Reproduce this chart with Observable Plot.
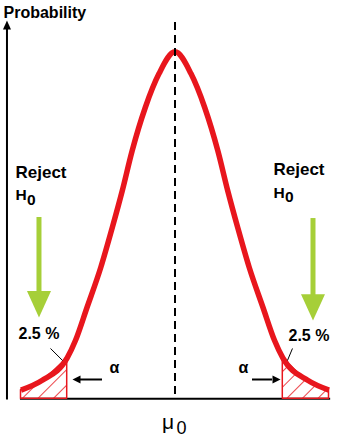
<!DOCTYPE html>
<html>
<head>
<meta charset="utf-8">
<script src="https://cdn.jsdelivr.net/npm/d3@7"></script>
<script src="https://cdn.jsdelivr.net/npm/@observablehq/plot@0.6"></script>
<style>
  html, body { margin: 0; padding: 0; background: #fff; }
  #chart svg { display: block; }
</style>
</head>
<body>
<div id="chart"></div>
<script>
// ---- data ----
const curveZ = [-2.80, -2.42, -1.96, -1.81, -1.60, -1.35, -1.14, -0.96, -0.78, -0.54, -0.29, 0,
                0.29, 0.54, 0.78, 0.96, 1.14, 1.35, 1.60, 1.81, 1.96, 2.42, 2.80];
const curveDensity = [0.010, 0.021, 0.047, 0.067, 0.105, 0.151, 0.197, 0.239, 0.285, 0.335, 0.374, 0.399,
                      0.374, 0.335, 0.285, 0.239, 0.197, 0.151, 0.105, 0.067, 0.047, 0.021, 0.010];
const criticalZ = 1.96;
const tailLabel = "2.5 %";
const alphaLabel = "α";
const rejectLabel = "Reject";
const axisLabel = "Probability";

const curve = curveZ.map((z, i) => ({z, d: curveDensity[i]}));
const leftTail = curve.filter(p => p.z <= -criticalZ);
const rightTail = curve.filter(p => p.z >= criticalZ);

// annotation anchors (in data units)
const textLabels = [
  {x: -3.118, y: 0.4375, text: axisLabel, size: 16, weight: "bold", anchor: "start"},
  {x: -2.9, y: 0.2545, text: rejectLabel, size: 17, weight: "bold", anchor: "start"},
  {x: 1.791, y: 0.2569, text: rejectLabel, size: 17, weight: "bold", anchor: "start"},
  {x: -2.9, y: 0.2281, text: "H", size: 15.5, weight: "bold", anchor: "start"},
  {x: -2.69, y: 0.2224, text: "0", size: 15.5, weight: "bold", anchor: "start"},
  {x: 1.791, y: 0.2315, text: "H", size: 15.5, weight: "bold", anchor: "start"},
  {x: 2.001, y: 0.2258, text: "0", size: 15.5, weight: "bold", anchor: "start"},
  {x: -2.845, y: 0.0693, text: tailLabel, size: 16, weight: "bold", anchor: "start"},
  {x: 2.064, y: 0.0670, text: tailLabel, size: 16, weight: "bold", anchor: "start"},
  {x: -1.10, y: 0.0291, text: alphaLabel, size: 16, weight: "bold", anchor: "middle"},
  {x: 1.245, y: 0.0302, text: alphaLabel, size: 16, weight: "bold", anchor: "middle"},
  {x: -0.127, y: -0.0348, text: "μ", size: 21, weight: "normal", anchor: "middle"},
  {x: 0.118, y: -0.0406, text: "0", size: 18, weight: "normal", anchor: "middle"}
];
const leaders = [
  {x1: -2.264, y1: 0.0579, x2: -2.045, y2: 0.0441},
  {x1: 2.136, y1: 0.0579, x2: 2.045, y2: 0.0441}
];
const greenShafts = [
  {x: -2.473, y1: 0.2085, y2: 0.1223},
  {x: 2.509, y1: 0.2073, y2: 0.1165}
];
const greenTips = [
  {x: -2.473, y: 0.0935},
  {x: 2.509, y: 0.0900}
];
const alphaShafts = [
  {x1: -1.318, x2: -1.718, y: 0.0222},
  {x1: 1.409, x2: 1.773, y: 0.0222}
];
const alphaTipsLeft = [{x: -1.864, y: 0.0222}];
const alphaTipsRight = [{x: 1.918, y: 0.0222}];
const yAxisLine = [{x: -3.055, y1: -0.0015, y2: 0.426}];
const yAxisTip = [{x: -3.055, y: 0.435}];
const baseline = [{x1: -2.81, x2: 2.83, y: 0}];
const meanLine = [{x: 0, y1: 0.005, y2: 0.433}];

// ---- symbols ----
function tri(dir, aspect) {
  return {
    draw(ctx, size) {
      const w = Math.sqrt(size / Math.PI), L = w * aspect;
      ctx.moveTo(0, 0);
      if (dir === "down") { ctx.lineTo(-w, -L); ctx.lineTo(w, -L); }
      if (dir === "up") { ctx.lineTo(-w, L); ctx.lineTo(w, L); }
      if (dir === "left") { ctx.lineTo(L, -w); ctx.lineTo(L, w); }
      if (dir === "right") { ctx.lineTo(-L, -w); ctx.lineTo(-L, w); }
      ctx.closePath();
    }
  };
}

const RED = "#e8161d";
const GREEN = "#a6cf38";
const FONT = "Liberation Sans, Arial, Helvetica, sans-serif";

const svg = Plot.plot({
  width: 355,
  height: 444,
  margin: 0,
  style: {background: "#fff", overflow: "visible"},
  x: {domain: [-3, 3], range: [9.5, 339.5], axis: null},
  y: {domain: [0, 0.4], range: [398.3, 50.5], axis: null},
  marks: [
    Plot.ruleY(baseline, {x1: "x1", x2: "x2", y: "y", stroke: "#000", strokeWidth: 2}),
    Plot.areaY(leftTail, {x: "z", y: "d", curve: "monotone-x", fill: "url(#hatch)", stroke: RED, strokeWidth: 1.5}),
    Plot.areaY(rightTail, {x: "z", y: "d", curve: "monotone-x", fill: "url(#hatch)", stroke: RED, strokeWidth: 1.5}),
    Plot.line(curve, {x: "z", y: "d", curve: "monotone-x", stroke: RED, strokeWidth: 5.5, strokeLinecap: "butt"}),
    Plot.ruleX(meanLine, {x: "x", y1: "y1", y2: "y2", stroke: "#000", strokeWidth: 2, strokeDasharray: "8,5"}),
    Plot.ruleX(yAxisLine, {x: "x", y1: "y1", y2: "y2", stroke: "#000", strokeWidth: 2}),
    Plot.dot(yAxisTip, {x: "x", y: "y", r: 4, symbol: tri("up", 2.25), fill: "#000", stroke: "none"}),
    Plot.ruleX(greenShafts, {x: "x", y1: "y1", y2: "y2", stroke: GREEN, strokeWidth: 5}),
    Plot.dot(greenTips, {x: "x", y: "y", r: 12, symbol: tri("down", 2.2), fill: GREEN, stroke: "none"}),
    Plot.link(leaders, {x1: "x1", y1: "y1", x2: "x2", y2: "y2", stroke: "#000", strokeWidth: 1}),
    Plot.ruleY(alphaShafts, {x1: "x1", x2: "x2", y: "y", stroke: "#000", strokeWidth: 2}),
    Plot.dot(alphaTipsLeft, {x: "x", y: "y", r: 4, symbol: tri("left", 2), fill: "#000", stroke: "none"}),
    Plot.dot(alphaTipsRight, {x: "x", y: "y", r: 4, symbol: tri("right", 2), fill: "#000", stroke: "none"}),
    ...textLabels.map(t => Plot.text([t], {
      x: "x", y: "y", text: "text", fontSize: t.size, fontWeight: t.weight,
      textAnchor: t.anchor, lineAnchor: "bottom", fontFamily: FONT, fill: "#000"
    }))
  ]
});

const defs = d3.select(svg).insert("defs", ":first-child");
const pat = defs.append("pattern")
  .attr("id", "hatch")
  .attr("patternUnits", "userSpaceOnUse")
  .attr("width", 11).attr("height", 11)
  .attr("patternTransform", "rotate(45)");
pat.append("line")
  .attr("x1", 0).attr("y1", 0).attr("x2", 0).attr("y2", 11)
  .attr("stroke", RED).attr("stroke-width", 1.6);

document.getElementById("chart").appendChild(svg);
</script>
</body>
</html>
